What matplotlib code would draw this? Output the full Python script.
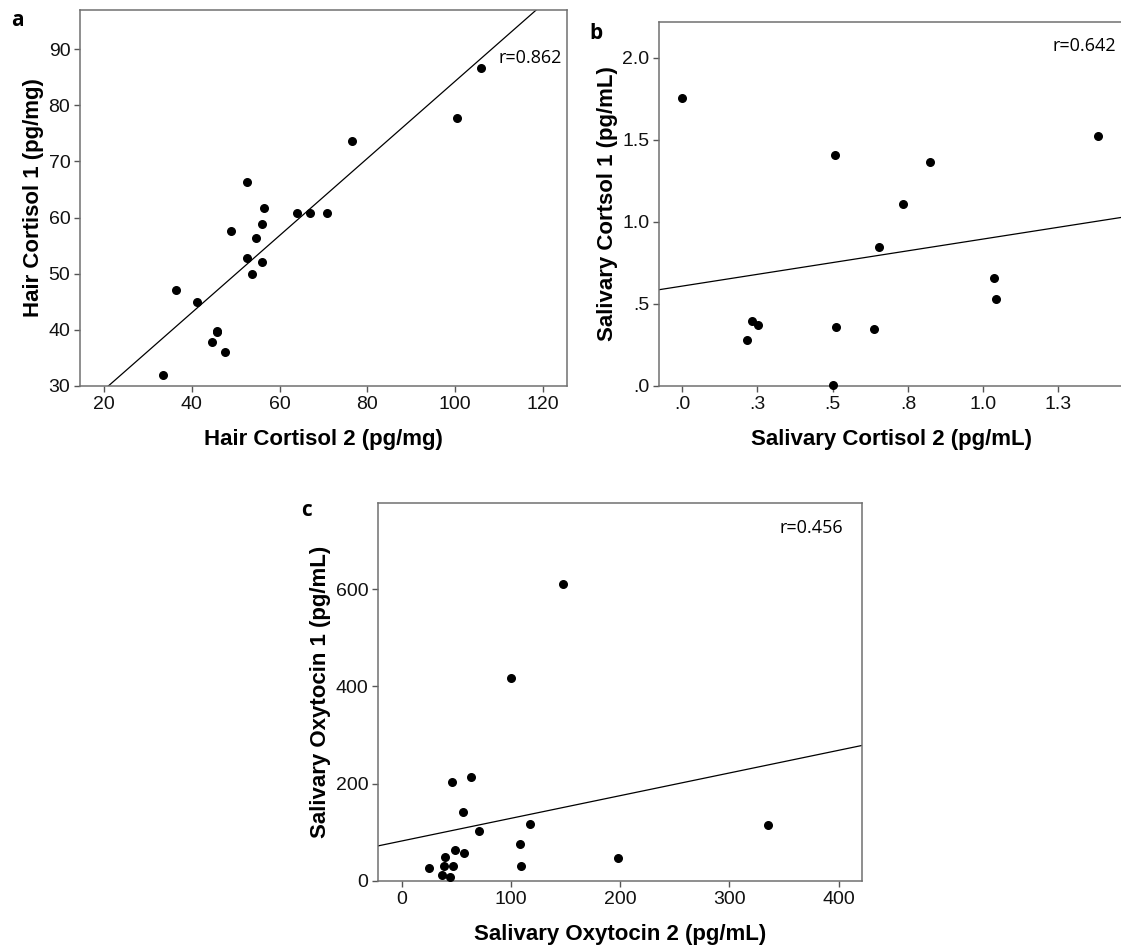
import matplotlib
matplotlib.use("Agg")
import matplotlib.pyplot as plt

# Panel a: hair cortisol
hair_x = [106.0, 100.4, 76.4, 52.6, 56.4, 63.9, 66.9, 70.7, 56.0, 48.9, 54.7,
          52.6, 56.0, 53.6, 36.4, 41.2, 45.7, 45.7, 44.5, 47.6, 33.3]
hair_y = [86.6, 77.8, 73.7, 66.3, 61.8, 60.9, 60.9, 60.9, 58.8, 57.6, 56.3,
          52.8, 52.1, 50.0, 47.1, 45.0, 39.8, 39.6, 37.8, 36.0, 32.0]
hair_fit = (15.6, 0.687)  # intercept, slope
hair_r = "r=0.862"
hair_xticks = [20, 40, 60, 80, 100, 120]
hair_yticks = [30, 40, 50, 60, 70, 80, 90]

# Panel b: salivary cortisol
scort_x = [0.0, 1.382, 0.509, 0.823, 0.735, 0.655, 1.035, 1.041, 0.231, 0.252,
           0.215, 0.511, 0.637, 0.501]
scort_y = [1.756, 1.526, 1.407, 1.366, 1.108, 0.848, 0.659, 0.528, 0.398, 0.370,
           0.280, 0.360, 0.348, 0.004]
scort_fit = (0.609, 0.287)
scort_r = "r=0.642"
scort_xticks = [0.0, 0.25, 0.5, 0.75, 1.0, 1.25]
scort_xlabels = [".0", ".3", ".5", ".8", "1.0", "1.3"]
scort_yticks = [0.0, 0.5, 1.0, 1.5, 2.0]
scort_ylabels = [".0", ".5", "1.0", "1.5", "2.0"]

# Panel c: salivary oxytocin
oxy_x = [147.7, 100.4, 63.0, 46.3, 55.8, 117.8, 335.3, 70.8, 108.6, 49.0, 57.2,
         39.1, 198.1, 38.8, 47.3, 109.3, 25.2, 36.8, 43.9]
oxy_y = [610.4, 416.3, 214.7, 204.4, 142.0, 116.6, 115.2, 103.6, 75.4, 63.8, 56.9,
         48.7, 46.6, 31.6, 30.9, 30.9, 27.4, 11.7, 8.2]
oxy_fit = (82.2, 0.466)
oxy_r = "r=0.456"
oxy_xticks = [0, 100, 200, 300, 400]
oxy_yticks = [0, 200, 400, 600]

plt.rcParams["font.family"] = ["Liberation Sans", "DejaVu Sans"]

fig = plt.figure(figsize=(11.21, 9.49), dpi=100)

def style_axes(ax):
    for sp in ax.spines.values():
        sp.set_color("#707070")
        sp.set_linewidth(1.1)
    ax.tick_params(direction="out", length=4, width=1, color="#555555",
                   labelsize=14, pad=3, labelcolor="#111111")


def panel(rect, x, y, fit, r_text, r_pos, letter, letter_pos, xlabel, ylabel,
          xlim, ylim):
    ax = fig.add_axes(rect)
    ax.scatter(x, y, s=30, color="black", zorder=3, clip_on=False)
    ax.axline((0, fit[0]), slope=fit[1], color="black", lw=0.9)
    ax.set_xlim(*xlim)
    ax.set_ylim(*ylim)
    ax.set_xlabel(xlabel, fontsize=16, fontweight="bold", labelpad=12)
    ax.set_ylabel(ylabel, fontsize=16, fontweight="bold", labelpad=3)
    ax.text(r_pos[0], r_pos[1], r_text, transform=ax.transAxes, fontsize=13,
            family="Open Sans", ha="right", va="center")
    fig.text(letter_pos[0], letter_pos[1], letter, fontsize=15,
             fontweight="bold", family="Open Sans", ha="left", va="center")
    style_axes(ax)
    return ax


ax_a = panel([0.0714, 0.5933, 0.4344, 0.3962], hair_x, hair_y, hair_fit, hair_r,
             (0.99, 0.872), "a", (0.010, 0.978),
             "Hair Cortisol 2 (pg/mg)", "Hair Cortisol 1 (pg/mg)",
             (14.5, 125.5), (30, 97))
ax_a.set_xticks(hair_xticks)
ax_a.set_yticks(hair_yticks)

ax_b = panel([0.5879, 0.5933, 0.4140, 0.3836], scort_x, scort_y, scort_fit, scort_r,
             (0.985, 0.935), "b", (0.526, 0.965),
             "Salivary Cortisol 2 (pg/mL)", "Salivary Cortsol 1 (pg/mL)",
             (-0.077, 1.465), (0, 2.22))
ax_b.set_xticks(scort_xticks, scort_xlabels)
ax_b.set_yticks(scort_yticks, scort_ylabels)

ax_c = panel([0.3372, 0.0717, 0.4318, 0.3983], oxy_x, oxy_y, oxy_fit, oxy_r,
             (0.96, 0.935), "c", (0.269, 0.462),
             "Salivary Oxytocin 2 (pg/mL)", "Salivary Oxytocin 1 (pg/mL)",
             (-21.8, 421.4), (0, 777))
ax_c.set_xticks(oxy_xticks)
ax_c.set_yticks(oxy_yticks)

fig.savefig("out.png", dpi=100, facecolor="white")
